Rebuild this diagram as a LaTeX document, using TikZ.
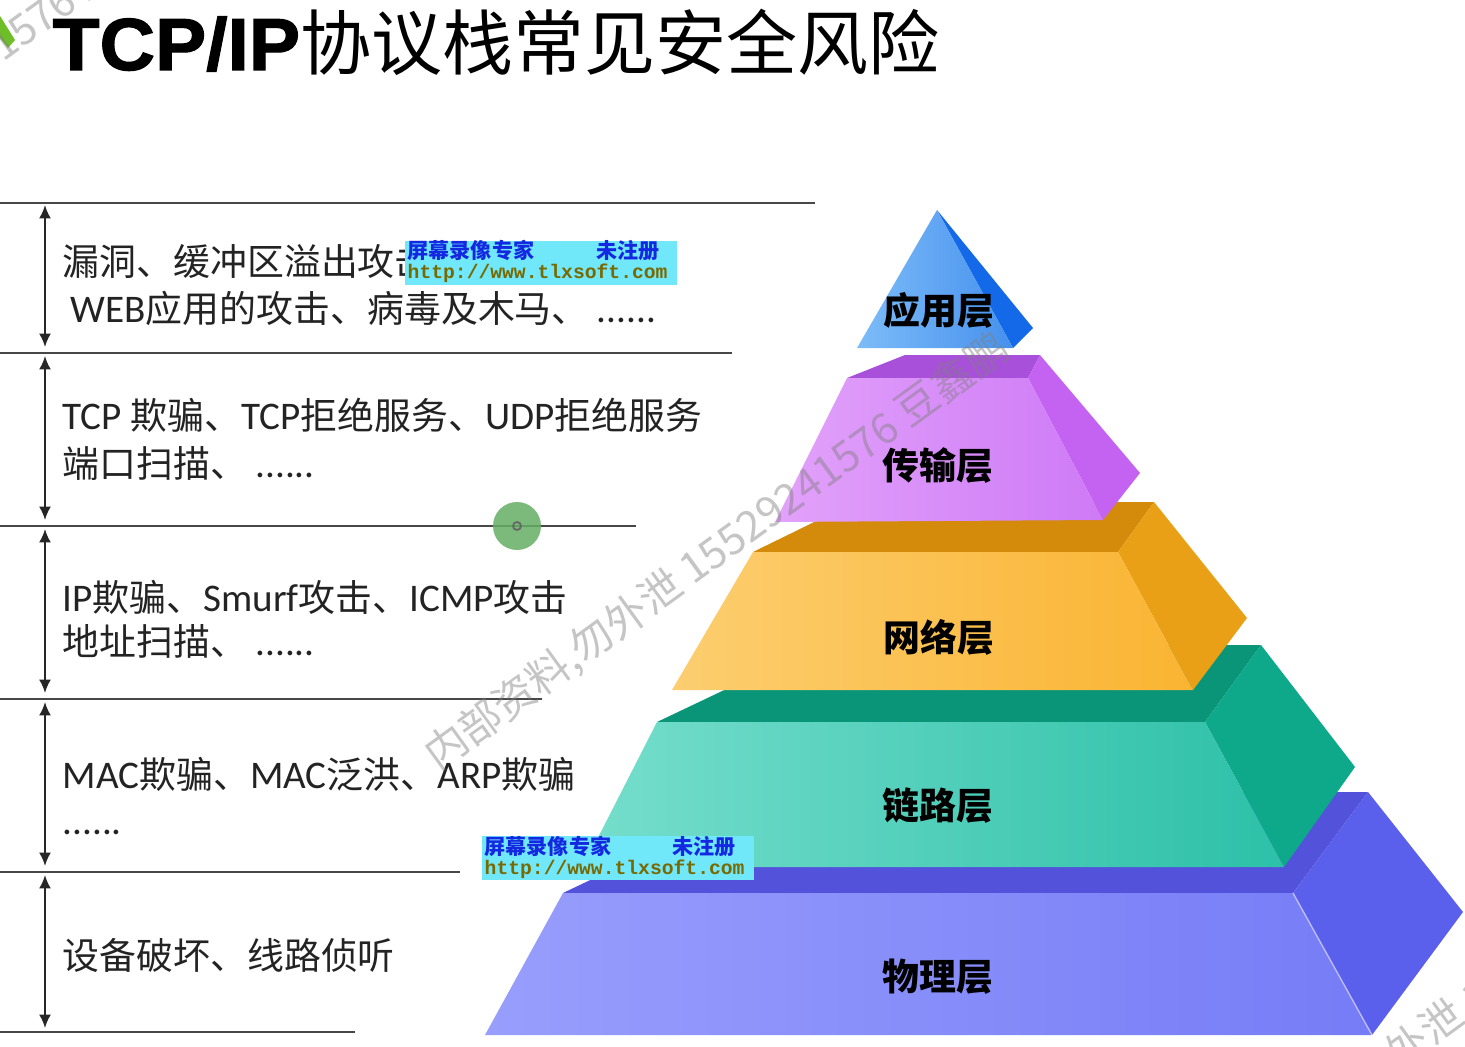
\documentclass[tikz,border=0pt]{standalone}
\usepackage{fontspec}
\usetikzlibrary{arrows.meta}
\setmainfont{Noto Sans CJK SC}
\newfontfamily\titlelat{Liberation Sans}[BoldFeatures={FakeBold=1.6,FakeStretch=1.04}]
\newfontfamily\lat{Carlito}[Scale=1.06]
\newfontfamily\stampmono{Liberation Mono}

\definecolor{ink}{RGB}{35,35,35}
\definecolor{cornergreen}{RGB}{110,190,40}
\definecolor{stampcyan}{RGB}{112,232,250}
\definecolor{stampblue}{RGB}{20,40,225}
\definecolor{stampolive}{RGB}{120,105,0}
\definecolor{dotgreen}{RGB}{100,175,100}
% layer colours: top face, side face, front face (left / right)
\definecolor{appfront}{RGB}{125,188,248}
\definecolor{appfrontb}{RGB}{70,145,238}
\definecolor{appside}{RGB}{20,105,232}
\definecolor{trtop}{RGB}{168,80,218}
\definecolor{trside}{RGB}{196,98,242}
\definecolor{trfront}{RGB}{226,162,250}
\definecolor{trfrontb}{RGB}{206,122,246}
\definecolor{nettop}{RGB}{212,138,10}
\definecolor{netside}{RGB}{234,160,22}
\definecolor{netfront}{RGB}{252,206,112}
\definecolor{netfrontb}{RGB}{250,180,50}
\definecolor{lnktop}{RGB}{10,148,120}
\definecolor{lnkside}{RGB}{14,168,138}
\definecolor{lnkfront}{RGB}{118,222,204}
\definecolor{lnkfrontb}{RGB}{45,192,168}
\definecolor{phytop}{RGB}{82,82,218}
\definecolor{physide}{RGB}{90,96,236}
\definecolor{phyfront}{RGB}{152,158,252}
\definecolor{phyfrontb}{RGB}{118,124,246}

\begin{document}
\begin{tikzpicture}[x=0.1mm,y=-0.1mm,
  sepline/.style={draw=black!72, line width=0.6pt},
  spanarrow/.style={draw=black!85, line width=0.6pt,
    {Latex[length=3.8pt,width=3.4pt]}-{Latex[length=3.8pt,width=3.4pt]}},
  risk/.style={anchor=base west, inner sep=0pt, text=ink,
    font=\fontsize{10.5pt}{12pt}\selectfont},
  layername/.style={inner sep=0pt, text=black,
    font=\bfseries\fontsize{10.5pt}{12pt}\selectfont},
  stampbox/.style={fill=stampcyan, draw=none, inner sep=0pt, anchor=north west,
    minimum width=27.2mm, minimum height=4.4mm},
  stamphead/.style={anchor=base west, inner sep=0pt, text=stampblue,
    font=\bfseries\fontsize{6pt}{7pt}\selectfont},
  stampurl/.style={anchor=base west, inner sep=0pt, text=stampolive,
    font=\stampmono\bfseries\fontsize{5.6pt}{6pt}\selectfont},
  diagmark/.style={text=gray, text opacity=0.45, rotate=36, inner sep=0pt,
    font=\fontsize{12pt}{14pt}\selectfont},
  edgeglint/.style={draw=white, draw opacity=0.5, line width=0.4pt},
]
\useasboundingbox (0,0) rectangle (1465,1047);
\fill[white] (0,0) rectangle (1465,1047);

% ---------- title ----------
\fill[cornergreen] (0,16) -- (15,40) -- (8,48) -- (0,38) -- cycle;
\node[anchor=base west, inner sep=0pt] (title) at (52,70)
  {{\titlelat\bfseries\fontsize{21pt}{24pt}\selectfont TCP/IP}{\fontsize{20.2pt}{24pt}\selectfont 协议栈常见安全风险}};

% ---------- separator lines ----------
\coordinate (h1l) at (0,203);  \coordinate (h1r) at (815,203);
\coordinate (h2l) at (0,353);  \coordinate (h2r) at (732,353);
\coordinate (h3l) at (0,526);  \coordinate (h3r) at (636,526);
\coordinate (h4l) at (0,699);  \coordinate (h4r) at (542,699);
\coordinate (h5l) at (0,872);  \coordinate (h5r) at (460,872);
\coordinate (h6l) at (0,1032); \coordinate (h6r) at (355,1032);
\foreach \i in {1,...,6} { \draw[sepline] (h\i l) -- (h\i r); }

% ---------- span arrows ----------
\coordinate (a1t) at (45,205);  \coordinate (a1b) at (45,347);
\coordinate (a2t) at (45,356);  \coordinate (a2b) at (45,520);
\coordinate (a3t) at (45,529);  \coordinate (a3b) at (45,693);
\coordinate (a4t) at (45,702);  \coordinate (a4b) at (45,866);
\coordinate (a5t) at (45,875);  \coordinate (a5b) at (45,1028);
\foreach \i in {1,...,5} { \draw[spanarrow] (a\i t) -- (a\i b); }

% ---------- risk descriptions ----------
\node[risk] (r1a) at (62,276) {漏洞、缓冲区溢出攻击、};
\node[risk] (r1b) at (70,322) {{\lat WEB}应用的攻击、病毒及木马、 {\lat ......}};
\node[risk] (r2a) at (62,429) {{\lat TCP }欺骗、{\lat TCP}拒绝服务、{\lat UDP}拒绝服务};
\node[risk] (r2b) at (62,477) {端口扫描、 {\lat ......}};
\node[risk] (r3a) at (62,611) {{\lat IP}欺骗、{\lat Smurf}攻击、{\lat ICMP}攻击};
\node[risk] (r3b) at (62,655) {地址扫描、 {\lat ......}};
\node[risk] (r4a) at (62,788) {{\lat MAC}欺骗、{\lat MAC}泛洪、{\lat ARP}欺骗};
\node[risk] (r4b) at (62,834) {{\lat ......}};
\node[risk] (r5a) at (62,969) {设备破坏、线路侦听};

% ---------- pyramid: physical layer ----------
\fill[phytop]  (563,893) -- (775,792) -- (1368,792) -- (1293,893) -- cycle;
\fill[physide] (1293,893) -- (1368,792) -- (1463,912) -- (1372,1035) -- cycle;
\shade[left color=phyfront, right color=phyfrontb]
  (563,893) -- (1293,893) -- (1372,1035) -- (485,1035) -- cycle;
\draw[edgeglint] (1293,893) -- (1372,1035);
\node[layername] (l5) at (938,977) {物理层};

% ---------- pyramid: link layer ----------
\fill[lnktop]  (657,722) -- (819,645) -- (1261,645) -- (1205,722) -- cycle;
\fill[lnkside] (1205,722) -- (1261,645) -- (1355,767) -- (1284,867) -- cycle;
\shade[left color=lnkfront, right color=lnkfrontb]
  (657,722) -- (1205,722) -- (1284,867) -- (583,867) -- cycle;
\node[layername] (l4) at (938,806) {链路层};

% ---------- pyramid: network layer ----------
\fill[nettop]  (753,552) -- (855,502) -- (1154,502) -- (1118,552) -- cycle;
\fill[netside] (1118,552) -- (1154,502) -- (1247,618) -- (1193,690) -- cycle;
\shade[left color=netfront, right color=netfrontb]
  (753,552) -- (1118,552) -- (1193,690) -- (672,690) -- cycle;
\node[layername] (l3) at (939,637) {网络层};

% ---------- pyramid: transport layer ----------
\fill[trtop]  (847,378) -- (905,355) -- (1040,355) -- (1028,378) -- cycle;
\fill[trside] (1028,378) -- (1040,355) -- (1140,473) -- (1103,520) -- cycle;
\shade[left color=trfront, right color=trfrontb]
  (847,378) -- (1028,378) -- (1103,520) -- (775,522) -- cycle;
\node[layername] (l2) at (938,466) {传输层};

% ---------- pyramid: application layer ----------
\fill[appside] (937,210) -- (1033,328) -- (1013,348) -- cycle;
\shade[left color=appfront, right color=appfrontb]
  (937,210) -- (1013,348) -- (857,348) -- cycle;
\node[layername] (l1) at (939,310) {应用层};

% ---------- pointer dot ----------
\node[circle, fill=dotgreen, fill opacity=0.85, minimum size=4.8mm, inner sep=0pt] (dot) at (517,526) {};
\draw[black!60, line width=0.5pt] (dot.center) circle (4);

% ---------- diagonal stamp ----------
\begin{scope}
  \clip (0,0) rectangle (1465,1047);
  \node[diagmark] (wmA) at (717,552) {内部资料,勿外泄 15529241576 豆鑫鹏};
  \node[diagmark] (wmB) at (-106,125) {内部资料,勿外泄 15529241576 豆鑫鹏};
  \node[diagmark] (wmC) at (1498,982) {内部资料,勿外泄 15529241576 豆鑫鹏};
\end{scope}

% ---------- recorder stamps ----------
\node[stampbox] (s1) at (404,240) {};
\node[stamphead] at (407,258) {屏幕录像专家};
\node[stamphead] at (596,258) {未注册};
\node[stampurl]  at (407,278) {http://www.tlxsoft.com};

\node[stampbox] (s2) at (481,835) {};
\node[stamphead] at (484,854) {屏幕录像专家};
\node[stamphead] at (672,854) {未注册};
\node[stampurl]  at (484,874) {http://www.tlxsoft.com};
\end{tikzpicture}
\end{document}
